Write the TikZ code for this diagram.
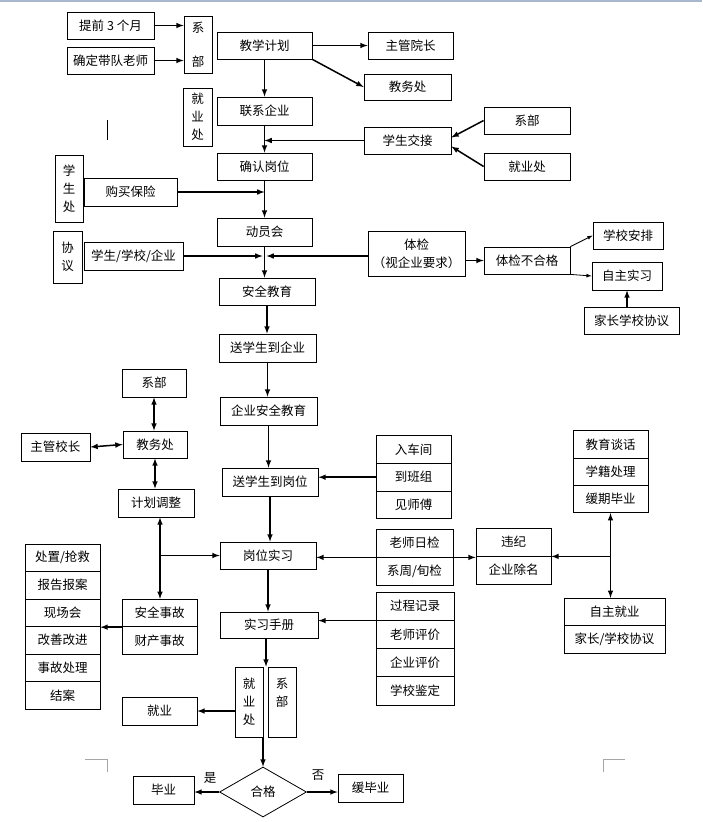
\documentclass[tikz,border=0pt]{standalone}
\usepackage{fontspec}
\usepackage{tikz}
\usetikzlibrary{arrows,shapes.geometric}
\newfontfamily\cjk{Noto Sans CJK SC}
\definecolor{topline}{RGB}{168,184,204}

\begin{document}
\begin{tikzpicture}[x=1pt, y=-1pt,
	box/.style={draw, line width=0.8pt, inner sep=0pt, align=center, font=\cjk\fontsize{12.5}{18}\selectfont},
	sz/.style 2 args={minimum width=#1pt, minimum height=#2pt},
	arr/.style={-latex, line width=1.5pt},
	darr/.style={latex-latex, line width=1.5pt},
	cropc/.style={color=gray!70, line width=0.8pt}]
	\useasboundingbox (0,0) rectangle (702,822);
	\draw[color=topline, line width=1.5pt] (0,1) -- (702,1);
	\draw[line width=1.5pt] (107.5,120) -- (107.5,140);

	% top part
	\node[box, sz={87}{27}] (ahead) at (110.5,25.5) {提前 3 个月};
	\node[box, sz={87}{27}] (teacher) at (110.5,60.5) {确定带队老师};
	\node[box, sz={28}{57}] (dept1) at (198,44.5) {系\\[16pt]部};
	\node[box, sz={95}{27}] (plan) at (264.5,45.5) {教学计划};
	\node[box, sz={85}{27}] (dean) at (410.5,45.5) {主管院长};
	\node[box, sz={87}{26}] (office1) at (407.5,87) {教务处};
	\node[box, sz={29}{58}] (emp1) at (197.5,117) {就\\业\\处};
	\node[box, sz={95}{28}] (contact) at (264.5,111) {联系企业};
	\node[box, sz={95}{27}] (confirm) at (264.5,166.5) {确认岗位};
	\node[box, sz={87}{27}] (handover) at (407.5,140.5) {学生交接};
	\node[box, sz={86}{27}] (dept2) at (527,120.5) {系部};
	\node[box, sz={86}{27}] (emp2) at (527,166.5) {就业处};
	\node[box, sz={28}{67}] (stuoff) at (69,188.5) {学\\生\\处};
	\node[box, sz={93}{28}] (insure) at (130.5,192) {购买保险};
	\node[box, sz={95}{28}] (mobilize) at (264.5,232) {动员会};
	\node[box, sz={29}{52}] (agree) at (67.5,257) {协\\议};
	\node[box, sz={99}{28}] (tripart) at (133.5,256) {学生/学校/企业};
	\node[box, sz={97}{45}] (exam) at (416.5,253.5) {体检\\（视企业要求）};
	\node[box, sz={86}{27}] (fail) at (527,260.5) {体检不合格};
	\node[box, sz={70}{27}] (arrange) at (628,235.5) {学校安排};
	\node[box, sz={70}{28}] (selfprac) at (627,276) {自主实习};
	\node[box, sz={95}{27}] (parent) at (631.5,320.5) {家长学校协议};
	\node[box, sz={96}{27}] (safety) at (267,291.5) {安全教育};
	\node[box, sz={97}{28}] (sendco) at (267.5,348) {送学生到企业};
	\node[box, sz={97}{28}] (cosafety) at (268.5,411) {企业安全教育};

	% middle part
	\node[box, sz={64}{28}] (dept3) at (154,383) {系部};
	\node[box, sz={69}{28}] (principal) at (55.5,447) {主管校长};
	\node[box, sz={64}{27}] (office2) at (155,444.5) {教务处};
	\node[box, sz={76}{28}] (adjust) at (156,503) {计划调整};
	\node[box, sz={96}{28}] (sendpost) at (270,482) {送学生到岗位};
	\node[box, sz={75}{27.7}] (ws1) at (413.5,449.5) {入车间};
	\node[box, sz={75}{27.7}] (ws2) at (413.5,477.2) {到班组};
	\node[box, sz={75}{27.7}] (ws3) at (413.5,504.9) {见师傅};
	\node[box, sz={96}{27}] (intern) at (268,555.5) {岗位实习};
	\node[box, sz={77}{28}] (chk1) at (414.5,543) {老师日检};
	\node[box, sz={77}{28}] (chk2) at (414.5,571) {系周/旬检};
	\node[box, sz={75}{28}] (disc1) at (513.5,542) {违纪};
	\node[box, sz={75}{28}] (disc2) at (513.5,570) {企业除名};
	\node[box, sz={75}{27.3}] (edu1) at (610.5,444.5) {教育谈话};
	\node[box, sz={75}{27.3}] (edu2) at (610.5,471.8) {学籍处理};
	\node[box, sz={75}{27.3}] (edu3) at (610.5,499.1) {缓期毕业};
	\node[box, sz={101}{27.5}] (job1) at (614.5,612) {自主就业};
	\node[box, sz={101}{27.5}] (job2) at (614.5,639.5) {家长/学校协议};

	% bottom part
	\node[box, sz={75}{27.5}] (h1) at (62.5,557.75) {处置/抢救};
	\node[box, sz={75}{27.5}] (h2) at (62.5,585.25) {报告报案};
	\node[box, sz={75}{27.5}] (h3) at (62.5,612.75) {现场会};
	\node[box, sz={75}{27.5}] (h4) at (62.5,640.25) {改善改进};
	\node[box, sz={75}{27.5}] (h5) at (62.5,667.75) {事故处理};
	\node[box, sz={75}{27.5}] (h6) at (62.5,695.25) {结案};
	\node[box, sz={75}{27.5}] (acc1) at (159.5,613) {安全事故};
	\node[box, sz={75}{27.5}] (acc2) at (159.5,640.5) {财产事故};
	\node[box, sz={98}{26}] (manual) at (269,625) {实习手册};
	\node[box, sz={78}{28.25}] (rec1) at (415,606.1) {过程记录};
	\node[box, sz={78}{28.25}] (rec2) at (415,634.4) {老师评价};
	\node[box, sz={78}{28.25}] (rec3) at (415,662.6) {企业评价};
	\node[box, sz={78}{28.25}] (rec4) at (415,690.9) {学校鉴定};
	\node[box, sz={28}{70}] (emp3) at (249,702) {就\\业\\处};
	\node[box, sz={28}{70}] (dept4) at (282,702) {系\\部\\\phantom{处}};
	\node[box, sz={75}{28}] (jobnode) at (159.5,711) {就业};
	\node[box, diamond, minimum width=87pt, minimum height=50pt] (pass) at (263,792) {合格};
	\node[box, sz={61}{28}] (grad) at (163.5,790) {毕业};
	\node[box, sz={65}{28}] (delay) at (370.5,788) {缓毕业};
	\node[box, draw=none] (yes) at (210,778) {是};
	\node[box, draw=none] (no) at (318,775) {否};

	% connectors
	\draw[arr] (ahead.east) -- (ahead.east -| dept1.west);
	\draw[arr] (teacher.east) -- (teacher.east -| dept1.west);
	\draw[arr] (plan.east) -- (dean.west);
	\draw[arr] (plan.south east) -- (office1.west);
	\draw[arr] (plan.south) -- (plan.south |- contact.north);
	\draw[arr] (contact.south) -- (contact.south |- confirm.north);
	\draw[arr] (handover.west) -- (handover.west -| confirm.south);
	\draw[arr] (dept2.west) -- ([yshift=3pt]handover.east);
	\draw[arr] (emp2.west) -- ([yshift=-6pt]handover.east);
	\draw[arr] (confirm.south) -- (confirm.south |- mobilize.north);
	\draw[arr] (insure.east) -- (insure.east -| confirm.south);
	\draw[arr] (mobilize.south) -- (mobilize.south |- safety.north);
	\coordinate (join) at (mobilize.south |- tripart.east);
	\draw[arr] (tripart.east) -- ([xshift=-2pt]join);
	\draw[arr] (exam.west |- join) -- ([xshift=2pt]join);
	\draw[arr] (exam.east |- fail.west) -- (fail.west);
	\draw[arr, line width=0.8pt] (fail.north east) -- (arrange.west);
	\draw[arr, line width=0.8pt] (fail.south east) -- (selfprac.west);
	\draw[arr] (parent.north -| selfprac.south) -- (selfprac.south);
	\draw[arr] (safety.south) -- (safety.south |- sendco.north);
	\draw[arr] (sendco.south) -- (sendco.south |- cosafety.north);
	\draw[arr] (cosafety.south) -- (cosafety.south |- sendpost.north);
	\draw[arr] (ws2.west) -- (ws2.west -| sendpost.east);
	\draw[arr] (sendpost.south) -- (sendpost.south |- intern.north);
	\draw[arr] (chk1.south west) -- (chk1.south west -| intern.east);
	\draw[arr] (chk1.south east) -- (chk1.south east -| disc1.west);
	\draw[arr] (intern.south) -- (intern.south |- manual.north);
	\draw[arr] (rec1.south west) -- (rec1.south west -| manual.east);
	\draw[darr] (dept3.south) -- (dept3.south |- office2.north);
	\draw[darr] (principal.east) -- (office2.west);
	\draw[darr] (office2.south) -- (office2.south |- adjust.north);
	\coordinate (fork) at ([xshift=4pt]adjust.south |- intern.west);
	\draw[darr] ([xshift=4pt]adjust.south) -- ([xshift=4pt]adjust.south |- acc1.north);
	\draw[arr] (fork) -- (intern.west);
	\draw[arr] (acc1.south west) -- (acc1.south west -| h3.east);
	\draw[darr] (edu3.south) -- (edu3.south |- job1.north);
	\draw[arr] (edu3.south |- disc1.south east) -- (disc1.south east);
	\draw[arr] ([xshift=-3pt]manual.south) -- ([xshift=-3pt]manual.south |- emp3.north);
	\draw[arr] (emp3.west |- jobnode.east) -- (jobnode.east);
	\draw[arr] (pass.north |- emp3.south) -- (pass.north);
	\draw[arr] (pass.west) -- (pass.west -| grad.east);
	\draw[arr] (pass.east) -- (pass.east -| delay.west);

	% crop marks
	\draw[cropc] (85,759) -- (107,759) -- (107,772);
	\draw[cropc] (603,772) -- (603,759) -- (625,759);
\end{tikzpicture}
\end{document}
